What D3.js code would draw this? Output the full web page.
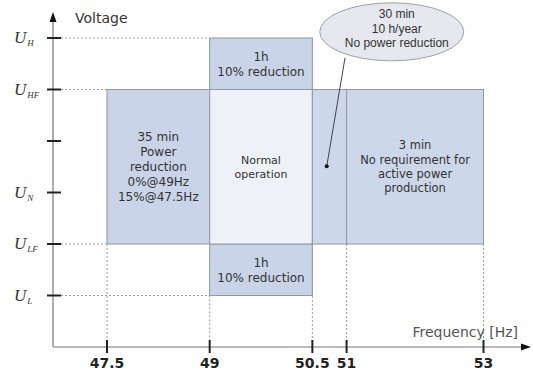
<!DOCTYPE html>
<html><head><meta charset="utf-8">
<script src="https://cdn.jsdelivr.net/npm/d3@7"></script>
<style>body{margin:0;background:#fff}svg{display:block}</style>
</head><body>
<script>
// ---- data ----
const freqTicks = [47.5, 49, 50.5, 51, 53];
const voltLevels = [
  {name: "L", level: 1}, {name: "LF", level: 2}, {name: "N", level: 3},
  {name: "", level: 4}, {name: "HF", level: 5}, {name: "H", level: 6}
];
const regions = [
  {f0: 47.5, f1: 49,   v0: 2, v1: 5, fill: "#c9d4e8", lines: ["35 min", "Power", "reduction", "0%@49Hz", "15%@47.5Hz"], size: 12},
  {f0: 49,   f1: 50.5, v0: 5, v1: 6, fill: "#c9d4e8", lines: ["1h", "10% reduction"], size: 12},
  {f0: 49,   f1: 50.5, v0: 1, v1: 2, fill: "#c9d4e8", lines: ["1h", "10% reduction"], size: 12},
  {f0: 49,   f1: 50.5, v0: 2, v1: 5, fill: "#eef1f8", lines: ["Normal", "operation"], size: 11},
  {f0: 50.5, f1: 51,   v0: 2, v1: 5, fill: "#cdd7ea", lines: [], size: 12},
  {f0: 51,   f1: 53,   v0: 2, v1: 5, fill: "#cdd7ea", lines: ["3 min", "No requirement for", "active power", "production"], size: 11.5}
];
const calloutLines = ["30 min", "10 h/year", "No power reduction"];
const calloutCenter = {f: 51.66, v: 6.12};
const calloutPoint = {f: 50.71, v: 3.51};

// ---- drawing ----
const W = 533, H = 372;
const svg = d3.select("body").append("svg").attr("width", W).attr("height", H);
const x = d3.scaleLinear().domain([47.5, 53]).range([107, 483.5]);
const y = d3.scaleLinear().domain([0, 6]).range([347, 38]);
const axisX = 53;
const font = "'DejaVu Sans', Verdana, sans-serif";

// region boxes
regions.forEach(r => {
  svg.append("rect")
    .attr("x", x(r.f0)).attr("y", y(r.v1))
    .attr("width", x(r.f1) - x(r.f0)).attr("height", y(r.v0) - y(r.v1))
    .attr("fill", r.fill).attr("stroke", "#8e98a8").attr("stroke-width", 1);
});

// region texts
regions.forEach(r => {
  if (!r.lines.length) return;
  const cx = (x(r.f0) + x(r.f1)) / 2;
  const cy = (y(r.v0) + y(r.v1)) / 2;
  const lh = r.size * 1.25;
  const t = svg.append("text").attr("text-anchor", "middle")
    .attr("font-family", font).attr("font-size", r.size).attr("fill", "#333");
  const n = r.lines.length;
  r.lines.forEach((l, i) => {
    t.append("tspan").attr("x", cx)
      .attr("y", cy + (i - (n - 1) / 2) * lh + r.size * 0.36).text(l);
  });
});

// dashed guides: horizontal from axis to region edges
const dash = "2,2";
const hGuides = [{v: 6, f: 49}, {v: 5, f: 47.5}, {v: 2, f: 47.5}, {v: 1, f: 49}];
hGuides.forEach(g => {
  svg.append("line").attr("x1", axisX + 8).attr("x2", x(g.f))
    .attr("y1", y(g.v)).attr("y2", y(g.v))
    .attr("stroke", "#999").attr("stroke-dasharray", dash);
});
// vertical guides from region bottoms to axis
const vGuides = [{f: 47.5, v: 2}, {f: 49, v: 1}, {f: 50.5, v: 2}, {f: 51, v: 2}, {f: 53, v: 2}];
vGuides.forEach(g => {
  svg.append("line").attr("x1", x(g.f)).attr("x2", x(g.f))
    .attr("y1", y(g.v)).attr("y2", y(0) - 6)
    .attr("stroke", "#999").attr("stroke-dasharray", dash);
});

// axes
svg.append("line").attr("x1", axisX).attr("x2", axisX).attr("y1", y(0)).attr("y2", 18)
  .attr("stroke", "#777").attr("stroke-width", 1.2);
svg.append("path").attr("d", `M${axisX},12 L${axisX - 3.5},22 L${axisX + 3.5},22 Z`).attr("fill", "#111");
svg.append("line").attr("x1", axisX).attr("x2", 524).attr("y1", y(0)).attr("y2", y(0))
  .attr("stroke", "#777").attr("stroke-width", 1.2);
svg.append("path").attr("d", `M531,${y(0)} L521,${y(0) - 3.5} L521,${y(0) + 3.5} Z`).attr("fill", "#111");

// y ticks & labels
voltLevels.forEach(d => {
  svg.append("line").attr("x1", axisX - 6).attr("x2", axisX + 8)
    .attr("y1", y(d.level)).attr("y2", y(d.level)).attr("stroke", "#222").attr("stroke-width", 2);
  if (d.name) {
    const t = svg.append("text").attr("x", 14).attr("y", y(d.level) + 5)
      .attr("font-family", "'Liberation Serif', 'Times New Roman', serif")
      .attr("font-style", "italic").attr("font-size", 17).attr("fill", "#333");
    t.append("tspan").text("U");
    t.append("tspan").attr("font-size", 9).attr("dy", 3).attr("dx", 1).text(d.name);
  }
});

// x ticks & labels
freqTicks.forEach(f => {
  svg.append("line").attr("x1", x(f)).attr("x2", x(f))
    .attr("y1", y(0) - 7).attr("y2", y(0) + 6).attr("stroke", "#222").attr("stroke-width", 2);
  svg.append("text").attr("x", x(f)).attr("y", 368).attr("text-anchor", "middle")
    .attr("font-family", font).attr("font-weight", "bold").attr("font-size", 14)
    .attr("fill", "#222").text(f);
});

// axis titles
svg.append("text").attr("x", 75).attr("y", 23).attr("font-family", font)
  .attr("font-size", 14).attr("fill", "#333").text("Voltage");
svg.append("text").attr("x", 518).attr("y", 337).attr("text-anchor", "end")
  .attr("font-family", font).attr("font-size", 14).attr("fill", "#555").text("Frequency [Hz]");

// callout
const ccx = x(calloutCenter.f), ccy = y(calloutCenter.v);
const px = x(calloutPoint.f), py = y(calloutPoint.v);
svg.append("line").attr("x1", 345).attr("y1", ccy + 26).attr("x2", px).attr("y2", py)
  .attr("stroke", "#444").attr("stroke-width", 1);
svg.append("ellipse").attr("cx", ccx).attr("cy", ccy).attr("rx", 72).attr("ry", 29)
  .attr("fill", "#e6e8ee").attr("stroke", "#9aa0ab").attr("stroke-width", 1);
svg.append("circle").attr("cx", px).attr("cy", py).attr("r", 2).attr("fill", "#111");
const ct = svg.append("text").attr("text-anchor", "middle")
  .attr("font-family", "'Liberation Sans', Arial, sans-serif").attr("font-size", 12).attr("fill", "#333");
calloutLines.forEach((l, i) => {
  ct.append("tspan").attr("x", ccx + 5).attr("y", 18 + i * 14.5).text(l);
});
</script>
</body></html>
